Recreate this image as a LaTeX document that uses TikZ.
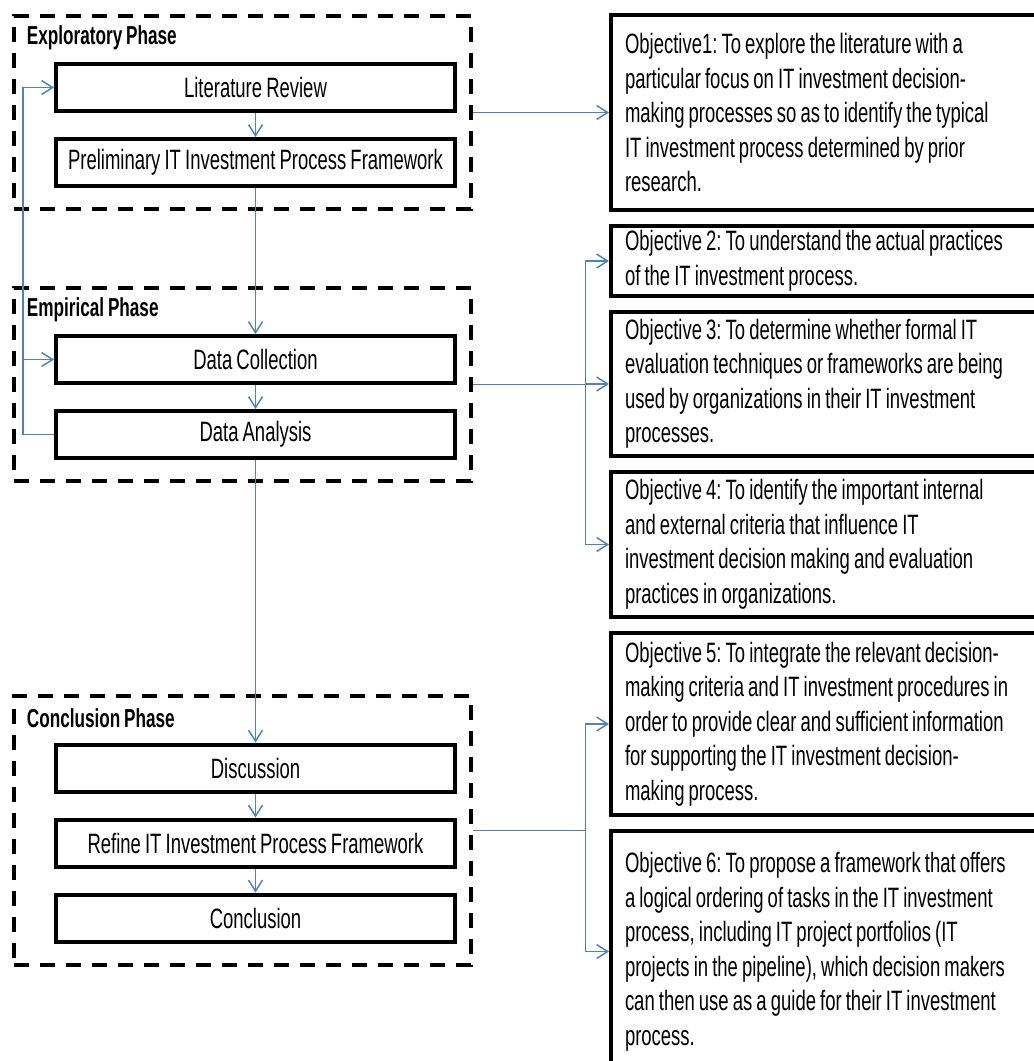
\documentclass[tikz,border=0pt]{standalone}
\usepackage{fontspec}
\setmainfont{Liberation Sans}[FakeStretch=0.66, WordSpace=0.8]
\usepackage{tikz}
\usetikzlibrary{positioning,arrows.meta}
\definecolor{linkblue}{RGB}{79,129,189}
\frenchspacing

\begin{document}
\begin{tikzpicture}[x=1pt,y=1pt,node distance=24pt]
                \tikzstyle{stepbox} = [rectangle, minimum width=399pt, minimum height=47pt, inner sep=0pt, text centered, draw=black, line width=4pt, font=\fontsize{28}{34.5}\selectfont]
                \tikzstyle{phasebox} = [rectangle, minimum width=457pt, draw=black, line width=4.5pt, dash pattern=on 15pt off 11pt]
                \tikzstyle{phasename} = [anchor=west, inner sep=0pt, font=\fontsize{26}{34.5}\selectfont\bfseries]
                \tikzstyle{objbox} = [rectangle, text width=440pt, inner xsep=14pt, inner ysep=2pt, align=flush left, draw=black, line width=4pt, font=\fontsize{28}{34.5}\selectfont]
                \tikzstyle{arrow} = [linkblue, line width=1.5pt, -{Straight Barb[length=11pt,width=14pt]}]
                \useasboundingbox (0,0) rectangle (1034,-1061);
                \clip (0,0) rectangle (1034,-1061);

                \node (phase1) [phasebox, minimum height=193pt] at (242.5,-112.5) {};
                \node (phase2) [phasebox, minimum height=193pt] at (242.5,-384.5) {};
                \node (phase3) [phasebox, minimum height=269pt] at (242.5,-830.5) {};
                \node (label1) [phasename] at ([shift={(15,-24)}]phase1.north west) {Exploratory Phase};
                \node (label2) [phasename] at ([shift={(15,-24)}]phase2.north west) {Empirical Phase};
                \node (label3) [phasename] at ([shift={(15,-24)}]phase3.north west) {Conclusion Phase};

                \node (step1) [stepbox] at (255.5,-87.5) {Literature Review};
                \node (step2) [stepbox, below=of step1] {Preliminary IT Investment Process Framework};
                \node (step3) [stepbox] at (255.5,-359.5) {Data Collection};
                \node (step4) [stepbox, below=of step3] {Data Analysis};
                \node (step5) [stepbox] at (255.5,-768) {Discussion};
                \node (step6) [stepbox, below=of step5] {Refine IT Investment Process Framework};
                \node (step7) [stepbox, below=of step6] {Conclusion};

                \node (obj1) [objbox, minimum height=195pt, anchor=north west] at (609,-13) {Objective1: To explore the literature with a\\particular focus on IT investment decision-\\making processes so as to identify the typical\\IT investment process determined by prior\\research.};
                \node (obj2) [objbox, minimum height=70pt, below=12pt of obj1] {Objective 2: To understand the actual practices\\of the IT investment process.};
                \node (obj3) [objbox, minimum height=144pt, below=12pt of obj2] {Objective 3: To determine whether formal IT\\evaluation techniques or frameworks are being\\used by organizations in their IT investment\\processes.};
                \node (obj4) [objbox, minimum height=145pt, below=12pt of obj3] {Objective 4: To identify the important internal\\and external criteria that influence IT\\investment decision making and evaluation\\practices in organizations.};
                \node (obj5) [objbox, minimum height=182pt, below=12pt of obj4] {Objective 5: To integrate the relevant decision-\\making criteria and IT investment procedures in\\order to provide clear and sufficient information\\for supporting the IT investment decision-\\making process.};
                \node (obj6) [objbox, minimum height=241pt, below=12pt of obj5] {Objective 6: To propose a framework that offers\\a logical ordering of tasks in the IT investment\\process, including IT project portfolios (IT\\projects in the pipeline), which decision makers\\can then use as a guide for their IT investment\\process.};

                \draw [arrow] (step1) -- (step2);
                \draw [arrow] (step2) -- (step3);
                \draw [arrow] (step3) -- (step4);
                \draw [arrow] (step4) -- (step5);
                \draw [arrow] (step5) -- (step6);
                \draw [arrow] (step6) -- (step7);
                \draw [arrow] (step4.west) -- ++(-31,0) |- (step1.west);
                \draw [arrow] (step4.west) -- ++(-31,0) |- (step3.west);

                \draw [arrow] (phase1.east) -- (obj1.west);
                \draw [arrow] (phase2.east) -- ++(112,0) |- (obj2.west);
                \draw [arrow] (phase2.east) -- ++(112,0) |- (obj3.west);
                \draw [arrow] (phase2.east) -- ++(112,0) |- (obj4.west);
                \draw [arrow] (phase3.east) -- ++(112,0) |- (obj5.west);
                \draw [arrow] (phase3.east) -- ++(112,0) |- (obj6.west);

            \end{tikzpicture}
\end{document}
